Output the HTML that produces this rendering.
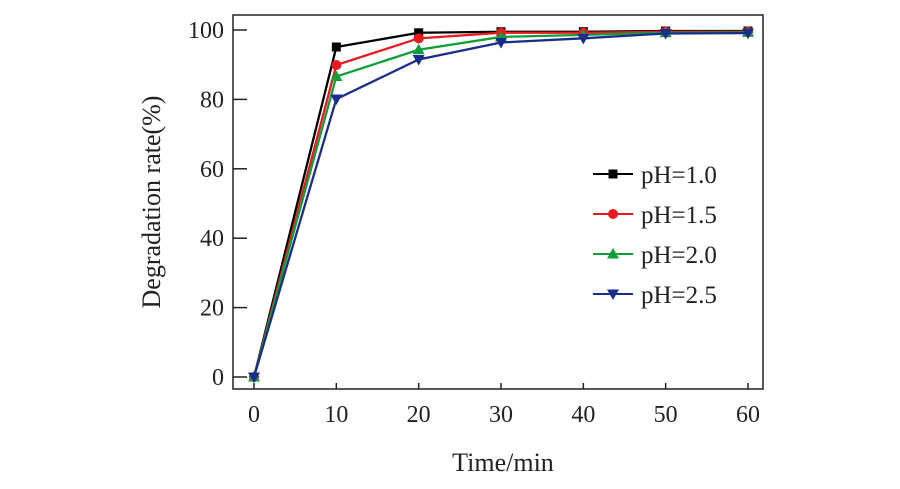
<!DOCTYPE html>
<html><head><meta charset="utf-8"><style>
body{margin:0;background:#fff;}
svg{display:block;font-family:"Liberation Serif",serif;}
</style></head><body>
<svg id="chart" width="900" height="489" viewBox="0 0 900 489">
<rect x="233" y="15" width="530" height="374" fill="none" stroke="#222" stroke-width="1.5"/>
<g id="axes"></g>
<g id="series"></g>
<g id="legend"></g>
<text x="503" y="471" font-size="26" text-anchor="middle" fill="#222">Time/min</text>
<text transform="translate(160,202) rotate(-90)" font-size="26" text-anchor="middle" fill="#222">Degradation rate(%)</text>
</svg>
<script>
const times=[0,10,20,30,40,50,60];
const xTicks=[0,10,20,30,40,50,60];
const yTicks=[0,20,40,60,80,100];
const seriesNames=["pH=1.0","pH=1.5","pH=2.0","pH=2.5"];
const ph10=[0,95.1,99.2,99.5,99.5,99.7,99.7];
const ph15=[0,89.9,97.6,99.2,99.2,99.5,99.5];
const ph20=[0,86.6,94.3,98.0,98.6,99.2,99.3];
const ph25=[0,80.1,91.5,96.4,97.6,99.0,99.1];
const values=[ph10,ph15,ph20,ph25];
const colors=["#000000","#e8191f","#0f9e3a","#1b2c8f"];
const markers=["square","circle","up","down"];
const NS="http://www.w3.org/2000/svg";
const xs=v=>254+v*(748-254)/60;
const ys=v=>377-v*3.47;
function mk(tag,attrs,parent){const e=document.createElementNS(NS,tag);for(const k in attrs)e.setAttribute(k,attrs[k]);parent.appendChild(e);return e;}
const axes=document.getElementById('axes');
xTicks.forEach(t=>{
 const l=mk('line',{x1:xs(t),x2:xs(t),y1:389,y2:383,stroke:'#222','stroke-width':1.5},axes);
 
 
 const tx=mk('text',{x:xs(t),y:422,'font-size':24,'text-anchor':'middle',fill:'#222'},axes);
 tx.textContent=t;
 
 
});
yTicks.forEach(t=>{
 const l=mk('line',{x1:233,x2:247,y1:ys(t),y2:ys(t),stroke:'#222','stroke-width':1.5},axes);
 
 
 const tx=mk('text',{x:224,y:ys(t)+8,'font-size':24,'text-anchor':'end',fill:'#222'},axes);
 tx.textContent=t;
 
 
});
function marker(type,x,y,c,parent){
 let e;
 if(type==='square')e=mk('rect',{x:x-4.5,y:y-4.5,width:9,height:9,fill:c},parent);
 else if(type==='circle')e=mk('circle',{cx:x,cy:y,r:5,fill:c},parent);
 else if(type==='up')e=mk('polygon',{points:`${x},${y-6} ${x+6},${y+4.5} ${x-6},${y+4.5}`,fill:c},parent);
 else e=mk('polygon',{points:`${x},${y+6} ${x+6},${y-4.5} ${x-6},${y-4.5}`,fill:c},parent);
 return e;
}
const sg=document.getElementById('series');
values.forEach((vals,i)=>{
 const g=mk('g',{},sg);
 
 
 const pl=mk('polyline',{points:vals.map((v,j)=>xs(times[j])+','+ys(v)).join(' '),fill:'none',stroke:colors[i],'stroke-width':2.3},g);
 
 
 vals.forEach((v,j)=>{
  const m=marker(markers[i],xs(times[j]),ys(v),colors[i],g);
  
  
 });
});
const lg=document.getElementById('legend');
seriesNames.forEach((n,i)=>{
 const y=174+i*40;
 const g=mk('g',{},lg);
 
 
 mk('line',{x1:593,x2:633,y1:y,y2:y,stroke:colors[i],'stroke-width':2},g);
 marker(markers[i],613,y,colors[i],g);
 const t=mk('text',{x:641,y:y+9,'font-size':25,fill:'#222'},g);
 t.textContent=n;
});
</script>
</body></html>
